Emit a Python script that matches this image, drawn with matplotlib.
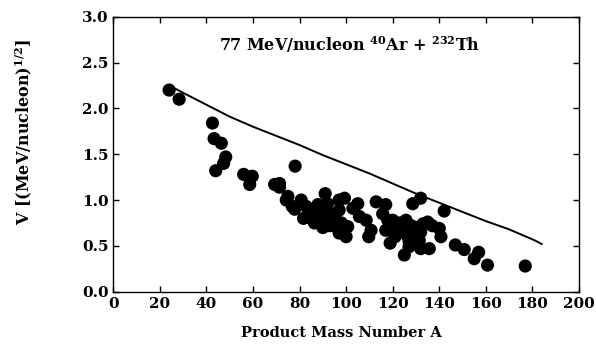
"""
Fragment velocity vs product mass number, 77 MeV/nucleon 40Ar + 232Th.
"""

import matplotlib
matplotlib.use('Agg')
import matplotlib.pyplot as plt

mass_a = [24.0, 28.3, 42.6, 43.3, 46.4, 48.3, 47.4, 44.0, 56.0, 59.7, 58.6,
          78.1, 69.3, 71.4, 71.4, 75.0, 74.3, 76.9, 77.9, 80.7, 81.7, 82.9,
          85.0, 86.4, 87.9, 88.6, 91.0, 92.0, 92.9, 94.3, 95.7, 97.0, 99.3,
          97.0, 97.0, 100.0, 100.7, 102.9, 105.0, 105.7, 108.6, 110.7, 109.7,
          112.9, 117.0, 115.7, 117.9, 120.0, 117.0, 118.9, 122.0, 122.9,
          125.7, 125.0, 127.0, 128.6, 132.0, 129.3, 131.4, 132.0, 135.0,
          135.7, 140.0, 140.7, 142.1, 146.9, 150.7, 155.0, 156.9, 160.7,
          176.9,
          85.0, 88.0, 90.0, 93.0, 95.0, 90.0, 84.0, 98.0, 124.0, 126.0,
          128.0, 130.0, 133.0, 121.0, 119.0, 132.0, 137.0, 127.0]
velocity = [2.20, 2.10, 1.84, 1.67, 1.62, 1.47, 1.40, 1.32, 1.28, 1.26, 1.17,
            1.37, 1.17, 1.18, 1.14, 1.04, 1.00, 0.93, 0.90, 1.00, 0.80, 0.93,
            0.85, 0.75, 0.95, 0.78, 1.07, 0.96, 0.85, 0.78, 0.71, 1.00, 1.02,
            0.89, 0.64, 0.60, 0.71, 0.91, 0.96, 0.82, 0.78, 0.67, 0.60,
            0.98, 0.95, 0.85, 0.78, 0.78, 0.67, 0.53, 0.64, 0.75,
            0.78, 0.40, 0.49, 0.96, 1.02, 0.67, 0.56, 0.47, 0.76,
            0.47, 0.69, 0.60, 0.88, 0.51, 0.46, 0.36, 0.43, 0.29,
            0.28,
            0.80, 0.82, 0.70, 0.72, 0.82, 0.90, 0.88, 0.75, 0.70, 0.62,
            0.72, 0.70, 0.74, 0.60, 0.72, 0.65, 0.72, 0.55]

# reference curve
curve_a = [24, 30, 40, 50, 60, 70, 80, 90, 100, 110, 120, 130, 140, 150,
           160, 170, 181, 184]
curve_v = [2.25, 2.17, 2.04, 1.91, 1.80, 1.70, 1.60, 1.49, 1.39, 1.29, 1.18,
           1.07, 0.97, 0.87, 0.77, 0.68, 0.56, 0.52]

plt.rcParams['font.family'] = 'DejaVu Serif'
plt.rcParams['font.weight'] = 'bold'
plt.rcParams['mathtext.fontset'] = 'dejavuserif'
plt.rcParams['mathtext.default'] = 'bf'

fig = plt.figure(figsize=(5.96, 3.45), dpi=100)
ax = fig.add_axes([0.190, 0.1545, 0.7815, 0.797])

ax.scatter(mass_a, velocity, s=90, color='black', edgecolors='none', zorder=3)
ax.plot(curve_a, curve_v, color='black', linewidth=1.4)

ax.set_xlim(0, 200)
ax.set_ylim(0, 3.0)
ax.set_xticks(range(0, 201, 20))
ax.set_yticks([0.0, 0.5, 1.0, 1.5, 2.0, 2.5, 3.0])
ax.set_yticklabels(['0.0', '0.5', '1.0', '1.5', '2.0', '2.5', '3.0'])
ax.tick_params(direction='in', top=True, right=True, length=4, width=1,
               labelsize=11)
for lbl in ax.get_xticklabels() + ax.get_yticklabels():
    lbl.set_fontweight('bold')
for sp in ax.spines.values():
    sp.set_linewidth(1.0)

ax.set_xlabel('Product Mass Number A', fontsize=10.5, fontweight='bold')
ax.xaxis.set_label_coords(0.49, -0.125)
ax.set_ylabel(r'V [(MeV/nucleon)$^{1/2}$]', fontsize=11.5,
              fontweight='bold')
ax.yaxis.set_label_coords(-0.17, 0.58)

ax.text(0.508, 0.90, r'77 MeV/nucleon $^{40}$Ar + $^{232}$Th',
        transform=ax.transAxes, ha='center', va='center', fontsize=11.5,
        fontweight='bold')

fig.savefig('out.png', dpi=100)
